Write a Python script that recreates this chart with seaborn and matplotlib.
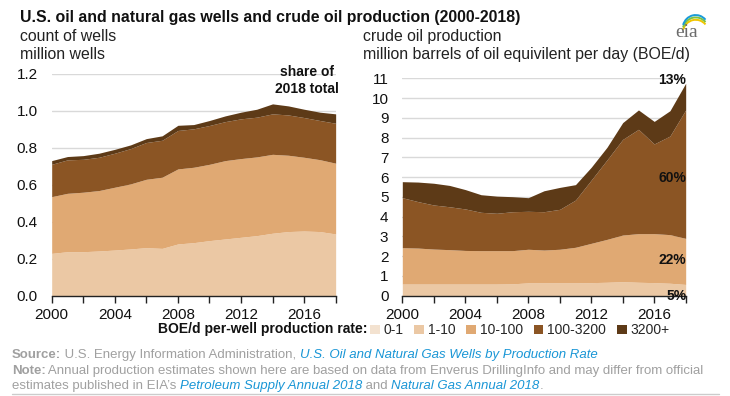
import matplotlib
matplotlib.use("Agg")
import matplotlib.pyplot as plt
import seaborn as sns
from matplotlib.patches import Patch, Arc
from matplotlib.lines import Line2D

sns.set_theme(style="white")
plt.rcParams["font.family"] = ["Liberation Sans", "DejaVu Sans"]

years = list(range(2000, 2019))
rates = ["0-1", "1-10", "10-100", "100-3200", "3200+"]
colors = ["#f3e2d0", "#ebc8a4", "#e0a973", "#8b5524", "#5d3a17"]

# million wells, by per-well production rate
wells_0_1 = [0] * 19
wells_1_10 = [.229, .238, .238, .242, .247, .253, .260, .256, .280, .287,
              .298, .307, .316, .325, .338, .347, .350, .347, .334]
wells_10_100 = [.307, .316, .322, .327, .340, .352, .370, .385, .406, .408,
                .413, .424, .426, .426, .427, .413, .399, .389, .383]
wells_100_3200 = [.175, .181, .178, .180, .184, .191, .199, .200, .208, .208,
                  .210, .211, .215, .215, .219, .218, .215, .212, .216]
wells_3200 = [.020, .018, .020, .022, .021, .020, .021, .024, .028, .023,
              .027, .031, .036, .043, .054, .049, .045, .045, .051]

# million BOE/d, by per-well production rate
prod_0_1 = [0] * 19
prod_1_10 = [.59, .59, .59, .59, .59, .59, .59, .60, .65, .65,
             .65, .65, .66, .68, .71, .68, .66, .63, .57]
prod_10_100 = [1.84, 1.82, 1.77, 1.74, 1.70, 1.69, 1.69, 1.68, 1.70, 1.66,
               1.70, 1.80, 1.99, 2.17, 2.36, 2.46, 2.48, 2.46, 2.33]
prod_100_3200 = [2.53, 2.35, 2.23, 2.17, 2.10, 1.94, 1.89, 1.97, 1.92, 1.94,
                 2.02, 2.39, 3.20, 4.02, 4.84, 5.28, 4.54, 4.99, 6.50]
prod_3200 = [.81, .99, 1.10, 1.08, .98, .89, .87, .76, .69, 1.06,
             1.11, .78, .65, .64, .85, .98, 1.14, 1.28, 1.35]

share_labels = ["5%", "22%", "60%", "13%"]
share_y = [0.0, 1.8, 5.95, 10.9]

fig = plt.figure(figsize=(7.3, 3.96), dpi=100)
ax1 = fig.add_axes([0.0708, 0.2533, 0.389, 0.56])
ax2 = fig.add_axes([0.5511, 0.2533, 0.3882, 0.5489])

ax1.stackplot(years, wells_0_1, wells_1_10, wells_10_100, wells_100_3200,
              wells_3200, colors=colors, linewidth=0)
ax2.stackplot(years, prod_0_1, prod_1_10, prod_10_100, prod_100_3200,
              prod_3200, colors=colors, linewidth=0)

ax1.set_ylim(0, 1.2)
ax1.set_yticks([0, .2, .4, .6, .8, 1.0, 1.2])
ax1.set_yticklabels(["0.0", "0.2", "0.4", "0.6", "0.8", "1.0", "1.2"])
ax2.set_ylim(0, 11)
ax2.set_yticks(range(0, 12))

for ax in (ax1, ax2):
    ax.set_xlim(2000, 2018)
    ax.set_xticks(range(2000, 2019, 2), minor=True)
    ax.set_xticks([2000, 2004, 2008, 2012, 2016])
    ax.grid(axis="y", color="#d9d9d9", linewidth=1)
    ax.set_axisbelow(True)
    sns.despine(ax=ax, left=True)
    ax.spines["bottom"].set_color("#222222")
    ax.spines["bottom"].set_linewidth(1)
    ax.tick_params(axis="x", which="both", bottom=True, length=5, width=1,
                   color="#222222", labelsize=11, labelcolor="#111111", pad=4)
    ax.tick_params(axis="y", left=False, labelsize=11, labelcolor="#111111", pad=4)

ax1.text(2016.2, 1.163, "share of\n2018 total", ha="center", va="center",
         fontsize=10, fontweight="bold", color="#111111", linespacing=1.25)
for lab, y in zip(share_labels, share_y):
    ax2.text(2018.05, y, lab, ha="right", va="center", fontsize=10,
             fontweight="bold", color="#111111", clip_on=False)

fig.text(0.027, 0.957, "U.S. oil and natural gas wells and crude oil production (2000-2018)",
         fontsize=11.4, fontweight="bold", color="#111111", va="center")
fig.text(0.027, 0.908, "count of wells", fontsize=11.4, color="#222222", va="center")
fig.text(0.027, 0.863, "million wells", fontsize=11.4, color="#222222", va="center")
fig.text(0.497, 0.908, "crude oil production", fontsize=11.4, color="#222222", va="center")
fig.text(0.497, 0.863, "million barrels of oil equivilent per day (BOE/d)",
         fontsize=11.4, color="#222222", va="center")

# eia logo
fig.text(0.94, 0.918, "eia", fontsize=14, family=["Liberation Serif", "DejaVu Serif"],
         color="#6b6b6b", ha="center", va="center")
for c, dy in [("#f2c500", 0.0), ("#7fc241", 0.006), ("#1a9bd7", 0.012)]:
    fig.patches.append(Arc((0.953, 0.915 + dy), 0.036, 0.07, theta1=60, theta2=150,
                           color=c, lw=1.4, transform=fig.transFigure, figure=fig))

# legend
fig.text(0.503, 0.168, "BOE/d per-well production rate:", fontsize=10,
         fontweight="bold", color="#111111", ha="right", va="center")
handles = [Patch(facecolor=c, edgecolor="none") for c in colors]
fig.legend(handles, rates, loc="center left", bbox_to_anchor=(0.507, 0.166),
           ncol=5, frameon=False, fontsize=10, handlelength=0.7, handleheight=0.7,
           handletextpad=0.25, columnspacing=0.8, borderaxespad=0, borderpad=0)

gray = "#a0a0a0"
blue = "#1996d6"
renderer = fig.canvas.get_renderer()


def text_run(x, y, parts):
    for s, kw in parts:
        t = fig.text(x, y, s, fontsize=9.5, va="center", **kw)
        bb = t.get_window_extent(renderer)
        x = fig.transFigure.inverted().transform((bb.x1, bb.y0))[0]


text_run(0.016, 0.103, [("Source:", dict(fontweight="bold", color=gray)),
                        (" U.S. Energy Information Administration, ", dict(color=gray)),
                        ("U.S. Oil and Natural Gas Wells by Production Rate",
                         dict(style="italic", color=blue))])
text_run(0.016, 0.063, [("Note:", dict(fontweight="bold", color=gray)),
                        (" Annual production estimates shown here are based on data from "
                         "Enverus DrillingInfo and may differ from official", dict(color=gray))])
text_run(0.016, 0.024, [("estimates published in EIA\u2019s ", dict(color=gray)),
                        ("Petroleum Supply Annual 2018", dict(style="italic", color=blue)),
                        (" and ", dict(color=gray)),
                        ("Natural Gas Annual 2018", dict(style="italic", color=blue)),
                        (".", dict(color=gray))])
fig.add_artist(Line2D([0.016, 0.985], [0.006, 0.006], color="#cccccc", lw=1,
                      transform=fig.transFigure))

fig.savefig("out.png", dpi=100)
